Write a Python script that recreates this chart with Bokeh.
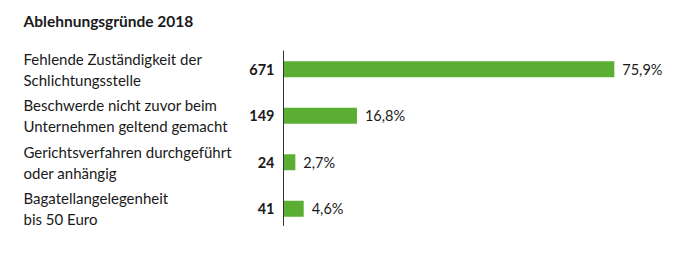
from bokeh.plotting import figure
from bokeh.models import Range1d, Label, ColumnDataSource
from bokeh.core.properties import value
from bokeh.embed import file_html
from bokeh.resources import INLINE

title = "Ablehnungsgründe 2018"
categories = [
    "Fehlende Zuständigkeit der\nSchlichtungsstelle",
    "Beschwerde nicht zuvor beim\nUnternehmen geltend gemacht",
    "Gerichtsverfahren durchgeführt\noder anhängig",
    "Bagatellangelegenheit\nbis 50 Euro",
]
counts = [671, 149, 24, 41]
percents = ["75,9%", "16,8%", "2,7%", "4,6%"]

GREEN = "#5aae32"
TEXT = "#1a1a1a"
FONT = "Lato"

idx = list(range(len(categories)))
src = ColumnDataSource(dict(
    y=idx, count=counts, cat=categories, pct=percents,
    count_lbl=[str(c) for c in counts], zero=[0] * len(counts),
))

px_per_unit = 0.493
x0_px = 283
W, H = 700, 255
p = figure(width=W, height=H, output_backend="svg", toolbar_location=None,
           x_range=Range1d(-x0_px / px_per_unit, (W - x0_px) / px_per_unit),
           y_range=Range1d((H - 68.7) / 46.5, -68.7 / 46.5),
           min_border=0, outline_line_color=None)
p.axis.visible = False
p.grid.visible = False
p.background_fill_color = "white"
p.border_fill_color = "white"

p.hbar(y="y", left=0, right="count", height=0.345, source=src,
       fill_color=GREEN, line_color=None)

# vertical baseline
p.segment(x0=[0], y0=[-0.40], x1=[0], y1=[len(categories) - 1 + 0.37],
          line_color="#333333", line_width=1)

# percentage labels
p.text(x="count", y="y", text="pct", source=src, x_offset=8,
       text_baseline="middle", text_align="left", text_font=value(FONT),
       text_font_size="14.5px", text_color=TEXT)

# count labels
p.text(x="zero", y="y", text="count_lbl", source=src, x_offset=-9,
       text_baseline="middle", text_align="right", text_font=value(FONT),
       text_font_size="14.5px", text_font_style="bold", text_color=TEXT)

# category labels
p.text(x="zero", y="y", text="cat", source=src, x_offset=-(x0_px - 23),
       text_baseline="middle", text_align="left", text_font=value(FONT),
       text_font_size="15px", text_color=TEXT, text_line_height=1.15)

p.add_layout(Label(x=23, y=H - 20, x_units="screen", y_units="screen",
                   text=title, text_font=FONT, text_font_size="15.5px",
                   text_font_style="bold", text_color=TEXT,
                   text_baseline="middle"))

open("out.html", "w").write(file_html(p, INLINE))
